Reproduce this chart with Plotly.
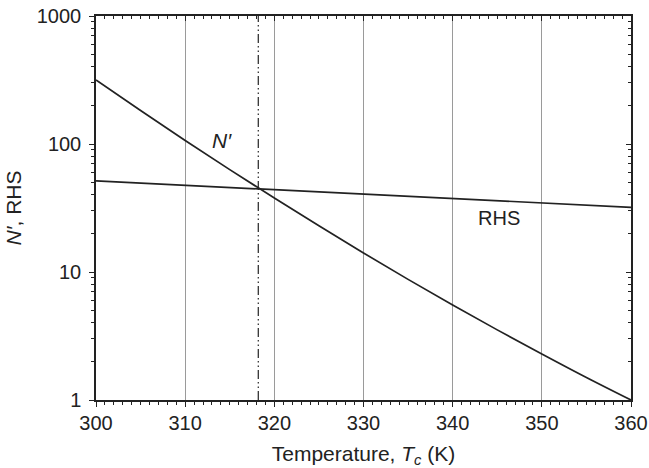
import plotly.graph_objects as go

# Data
temp_n = [300, 305, 310, 315, 320, 325, 330, 335, 340, 345, 350, 355, 360]
n_prime = [316, 182.5, 106.5, 63.1, 37.8, 22.95, 14.08, 8.76, 5.52, 3.53, 2.29, 1.50, 1.0]
temp_rhs = [300, 310, 320, 330, 340, 350, 360]
rhs = [51.5, 47.6, 44.0, 40.6, 37.5, 34.6, 32]
crossing_T = 318.2
x_major = [300, 310, 320, 330, 340, 350, 360]
y_major = [1, 10, 100, 1000]
y_labels = ["1", "10", "100", "1000"]
y_minor = [m * d for d in (1, 10, 100) for m in range(2, 10)]

FONT = "Liberation Sans, Arial, Helvetica, sans-serif"
INK = "#222222"

fig = go.Figure()
fig.add_trace(go.Scatter(x=[crossing_T, crossing_T], y=[1, 1000], mode="lines",
                         line=dict(color=INK, width=1.2, dash="9px,3px,1.5px,3px,1.5px,3px"),
                         hoverinfo="skip", showlegend=False))
fig.add_trace(go.Scatter(x=temp_n, y=n_prime, mode="lines", line=dict(color=INK, width=1.7, shape="spline"),
                         showlegend=False))
fig.add_trace(go.Scatter(x=temp_rhs, y=rhs, mode="lines", line=dict(color=INK, width=1.7),
                         showlegend=False))
# invisible trace for mirrored axes
fig.add_trace(go.Scatter(x=[300, 360], y=[1, 1000], xaxis="x2", yaxis="y2", mode="markers",
                         marker=dict(opacity=0), hoverinfo="skip", showlegend=False))

fig.add_annotation(x=314.1, y=2.03, text="<i>N′</i>", showarrow=False,
                   font=dict(family=FONT, size=21, color=INK))
fig.add_annotation(x=345.2, y=1.42, text="RHS", showarrow=False,
                   font=dict(family=FONT, size=20, color=INK))

common_font = dict(family=FONT, size=20, color=INK)
fig.update_layout(
    width=649, height=468,
    margin=dict(l=96, r=18, t=16, b=68),
    paper_bgcolor="white", plot_bgcolor="white",
    font=common_font,
    xaxis=dict(range=[300, 360], tickvals=x_major, ticktext=[str(v) for v in x_major],
               ticks="outside", ticklen=5, tickwidth=1.2, tickcolor=INK, ticklabelstandoff=-1,
               minor=dict(dtick=1, tick0=300, ticks="outside", ticklen=3, tickcolor=INK, tickwidth=1),
               showline=True, linecolor=INK, linewidth=1.5,
               showgrid=True, gridcolor="#9a9a9a", gridwidth=1, zeroline=False,
               tickfont=common_font, automargin=False,
               title=dict(text="Temperature, <i>T</i><sub><i>c</i></sub> (K)", font=dict(family=FONT, size=21, color=INK), standoff=15)),
    yaxis=dict(type="log", range=[0, 3], tickvals=y_major, ticktext=y_labels,
               ticks="outside", ticklen=5, tickwidth=1.2, tickcolor=INK, ticklabelstandoff=4,
               minor=dict(tickvals=y_minor, ticks="outside", ticklen=3, tickcolor=INK, tickwidth=1),
               showline=True, linecolor=INK, linewidth=1.5, showgrid=False, zeroline=False,
               tickfont=common_font, automargin=False,
               title=dict(text="<i>N′</i>, RHS", font=dict(family=FONT, size=21, color=INK), standoff=9)),
    xaxis2=dict(overlaying="x", side="top", range=[300, 360], tickvals=x_major, showticklabels=False,
                ticks="inside", ticklen=5, tickwidth=1.2, tickcolor=INK,
                minor=dict(dtick=1, tick0=300, ticks="inside", ticklen=3, tickcolor=INK, tickwidth=1),
                showline=True, linecolor=INK, linewidth=1.5, showgrid=False, zeroline=False),
    yaxis2=dict(overlaying="y", side="right", type="log", range=[0, 3], tickvals=y_major, showticklabels=False,
                ticks="inside", ticklen=5, tickwidth=1.2, tickcolor=INK,
                minor=dict(tickvals=y_minor, ticks="inside", ticklen=3, tickcolor=INK, tickwidth=1),
                showline=True, linecolor=INK, linewidth=1.5, showgrid=False, zeroline=False),
)

fig.write_html("out.html")
